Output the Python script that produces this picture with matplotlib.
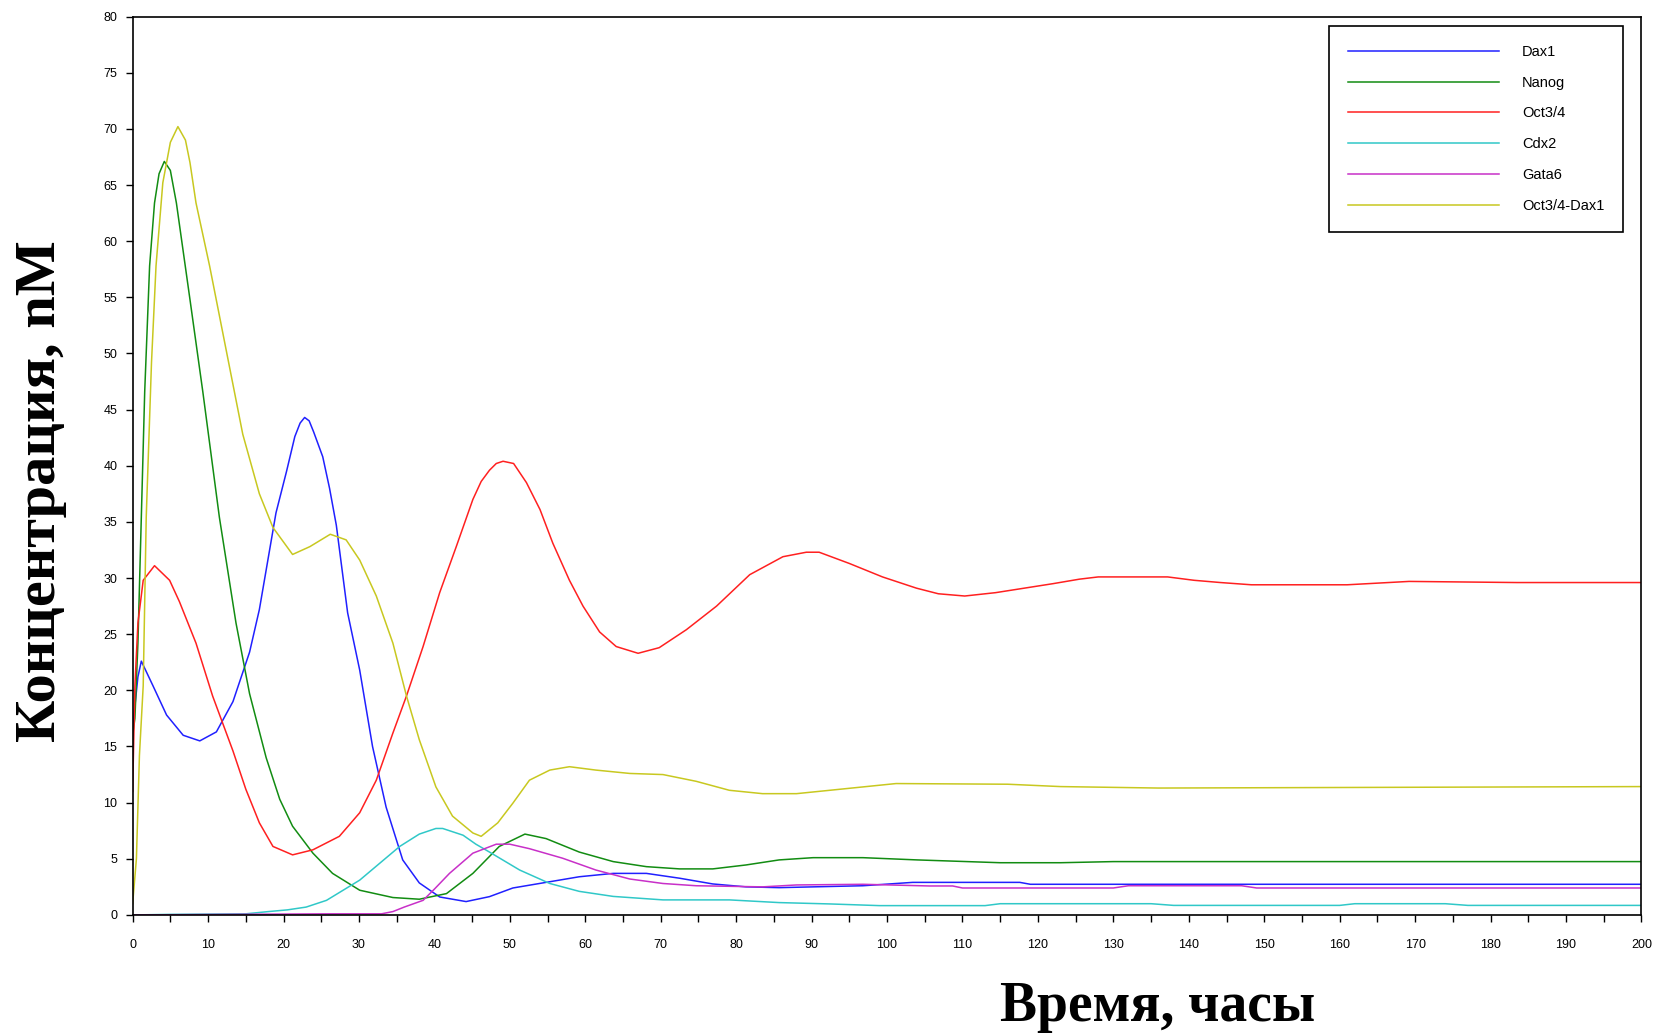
import matplotlib
matplotlib.use("Agg")
import matplotlib.pyplot as plt

# time points (hours) and concentrations (nM)
t_dax1 = [0, 0.3, 0.7, 1.15, 2.7, 4.5, 6.7, 8.9, 11.1, 13.3, 15.5, 16.8, 19.0, 20.4,
          21.5, 22.2, 22.8, 23.4, 24.0, 25.2, 26.1, 27.0, 28.5, 30.1, 31.8, 33.6, 35.8,
          38.0, 40.7, 44.2, 47.3, 50.4, 54.8, 59.2, 63.7, 68.1, 72.5, 76.9, 81.3,
          85.7, 90.2, 96.8, 103.4, 117.6, 119, 200]
dax1 = [16.5, 18.6, 21.2, 22.6, 20.4, 17.8, 16.0, 15.5, 16.3, 19.0, 23.4, 27.2, 35.8, 39.5,
        42.6, 43.8, 44.3, 44.0, 43.0, 40.8, 38.0, 34.7, 26.9, 21.8, 15.0, 9.6, 4.9,
        2.85, 1.6, 1.19, 1.63, 2.4, 2.9, 3.4, 3.7, 3.7, 3.27, 2.76, 2.5,
        2.43, 2.5, 2.6, 2.9, 2.9, 2.73, 2.73]

t_nanog = [0, 0.3, 0.7, 1.15, 1.6, 2.25, 2.9, 3.5, 4.2, 5.0, 5.8, 7.6, 9.3, 11.5, 13.7,
           15.5, 17.7, 19.5, 21.2, 23.9, 26.5, 30.1, 34.5, 38.0, 41.6, 45.1, 48.6,
           52.0, 54.8, 59.2, 63.7, 68.1, 72.5, 76.9, 81.3, 85.7, 90.2, 96.8, 104,
           115, 123, 130, 200]
nanog = [16, 17.5, 24.2, 35.4, 46.6, 57.8, 63.4, 66.0, 67.1, 66.3, 63.4, 54.8, 46.6, 35.4, 26.0,
         19.7, 14.0, 10.3, 7.9, 5.5, 3.7, 2.2, 1.55, 1.4, 1.9, 3.7, 6.1,
         7.2, 6.8, 5.6, 4.75, 4.3, 4.1, 4.1, 4.45, 4.9, 5.1, 5.1, 4.9,
         4.65, 4.65, 4.75, 4.75]

t_oct = [0, 0.3, 0.7, 1.4, 2.9, 4.9, 6.2, 8.4, 10.6, 13.3, 15.0, 16.8, 18.6, 21.2, 23.9,
         27.4, 30.1, 32.3, 34.5, 36.3, 38.5, 40.7, 42.9, 45.1, 46.2, 47.3, 48.2, 49.1,
         50.5, 52.2, 54.0, 55.7, 57.9, 59.7, 61.9, 64.1, 67.0, 69.8, 73.4, 77.4, 81.8,
         86.2, 89.3, 91.0, 95.0, 99.4, 103.9, 106.8, 110.3, 114.4, 118.2, 122.0, 125.5,
         128.0, 137.2, 140.7, 144.2, 148.3, 161, 169.2, 183.5, 200]
oct34 = [11, 20.4, 26, 29.8, 31.1, 29.8, 27.9, 24.2, 19.5, 14.6, 11.2, 8.2, 6.1, 5.35, 5.8,
         7.0, 9.1, 12.0, 16.2, 19.5, 23.9, 28.7, 32.8, 37.0, 38.6, 39.6, 40.2, 40.4,
         40.2, 38.5, 36.1, 33.1, 29.8, 27.5, 25.2, 23.9, 23.3, 23.8, 25.4, 27.5, 30.3,
         31.9, 32.3, 32.3, 31.3, 30.1, 29.1, 28.6, 28.4, 28.7, 29.1, 29.5, 29.9,
         30.1, 30.1, 29.8, 29.6, 29.4, 29.4, 29.7, 29.6, 29.6]

t_cdx2 = [0, 5, 15, 18, 20.5, 23, 25.7, 30.1, 35.4, 38.0, 40.2, 41.1, 43.8, 45.5, 47.3,
          51.3, 55.3, 59.2, 63.7, 70.3, 79.1, 85.7, 92.4, 99, 113, 115, 135, 138,
          160, 162, 174, 177, 200]
cdx2 = [0, 0.05, 0.1, 0.3, 0.45, 0.7, 1.3, 3.1, 6.1, 7.2, 7.7, 7.7, 7.1, 6.3, 5.6,
        4.0, 2.8, 2.1, 1.65, 1.34, 1.34, 1.1, 0.98, 0.83, 0.83, 1.0, 1.0, 0.85,
        0.85, 1.0, 1.0, 0.85, 0.85]

t_gata6 = [0, 26, 33, 34.5, 36, 38.5, 40, 42, 45.1, 48.2, 50, 52.6, 57, 61.4, 65.9,
           70.3, 74.7, 83.5, 88, 96.8, 105.6, 108.7, 110, 130, 132, 147, 149, 200]
gata6 = [0, 0.1, 0.1, 0.3, 0.7, 1.3, 2.3, 3.7, 5.5, 6.3, 6.3, 5.9, 5.05, 4.0, 3.2,
         2.8, 2.6, 2.5, 2.67, 2.73, 2.58, 2.58, 2.4, 2.4, 2.6, 2.6, 2.4, 2.4]

t_complex = [0, 0.5, 0.9, 1.4, 1.8, 2.5, 3.1, 4.0, 5.0, 6.0, 7.0, 7.6, 8.4, 10.2, 12.4,
             14.6, 16.8, 18.6, 21.2, 23.5, 26.2, 28.3, 30.1, 32.3, 34.5, 36.3, 38.0,
             40.2, 42.4, 45.1, 46.2, 48.4, 50.4, 52.6, 55.3, 57.9, 61.4, 65.9, 70.3,
             74.7, 79.1, 83.5, 88.0, 92.4, 96.8, 101.2, 116, 123, 136, 200]
complex_od = [1, 5, 14.2, 20.4, 35.4, 49.2, 57.8, 65.2, 68.8, 70.2, 69.0, 67.0, 63.4, 57.8, 50.3,
              42.8, 37.5, 34.5, 32.1, 32.8, 33.9, 33.4, 31.6, 28.4, 24.2, 19.5, 15.6,
              11.4, 8.8, 7.3, 7.0, 8.2, 9.95, 12.0, 12.9, 13.2, 12.9, 12.6, 12.5,
              11.9, 11.1, 10.8, 10.8, 11.1, 11.4, 11.7, 11.64, 11.43, 11.3, 11.43]

labels = ["Dax1", "Nanog", "Oct3/4", "Cdx2", "Gata6", "Oct3/4-Dax1"]
colors = ["#2020ff", "#128c12", "#ff2020", "#30c8c8", "#c830c8", "#c8c820"]

fig = plt.figure(figsize=(16.58, 10.35), dpi=100)
ax = fig.add_axes([0.080, 0.116, 0.910, 0.868])

series = [(t_dax1, dax1), (t_nanog, nanog), (t_oct, oct34),
          (t_cdx2, cdx2), (t_gata6, gata6), (t_complex, complex_od)]
for (t, c), lab, col in zip(series, labels, colors):
    ax.plot(t, c, color=col, linewidth=1.1, label=lab)

ax.set_xlim(0, 200)
ax.set_ylim(0, 80)
ax.set_xticks(range(0, 201, 10))
ax.set_xticks(range(0, 201, 5), minor=True)
ax.set_yticks(range(0, 81, 5))
ax.tick_params(axis="both", which="both", direction="out", length=5, width=1,
               labelsize=9)
ax.tick_params(axis="x", which="major", pad=12)
ax.tick_params(axis="y", which="major", pad=6)
for lab in ax.get_xticklabels() + ax.get_yticklabels():
    lab.set_fontfamily("Liberation Sans")
for sp in ax.spines.values():
    sp.set_linewidth(1.2)

leg = ax.legend(loc="upper right", bbox_to_anchor=(0.979, 0.975),
                bbox_transform=fig.transFigure, borderaxespad=0,
                fancybox=False, framealpha=1, edgecolor="black",
                prop={"family": "Liberation Sans", "size": 10.5},
                handlelength=10.3, handletextpad=1.6, labelspacing=1.15,
                borderpad=1.3)
leg.get_frame().set_linewidth(1.2)

fig.text(0.698, 0.027, "Время, часы", ha="center", va="center",
         fontsize=40, fontweight="bold", family="Liberation Serif")
fig.text(0.025, 0.525, "Концентрация, nM", ha="center", va="center",
         rotation=90, fontsize=42, fontweight="bold", family="Liberation Serif")

fig.savefig("out.png", dpi=100)
